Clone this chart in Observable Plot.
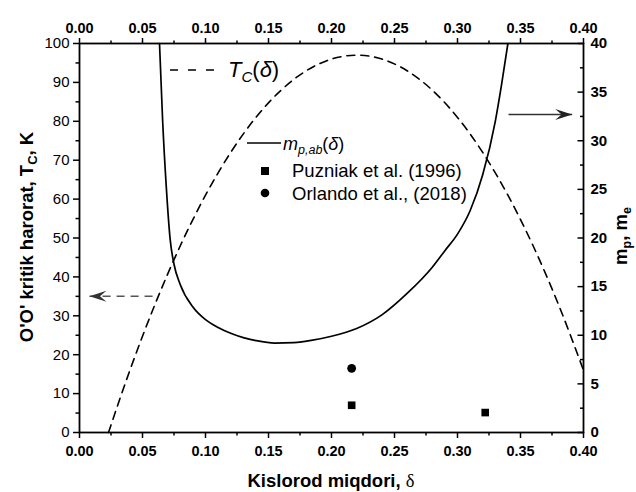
<!DOCTYPE html>
<html><head><meta charset="utf-8">
<script src="https://cdn.jsdelivr.net/npm/d3@7"></script>
<script src="https://cdn.jsdelivr.net/npm/@observablehq/plot@0.6"></script>
<style>
body{margin:0;background:#fff}
#chart{position:relative;width:636px;height:492px}
</style>
</head><body><div id="chart"></div>
<script>
// T_C(δ) dashed curve (left axis, K)
const tcDelta  = [0.023, 0.040, 0.060, 0.080, 0.100, 0.120, 0.140, 0.160, 0.180, 0.200, 0.220, 0.240, 0.260, 0.280, 0.300, 0.320, 0.340, 0.360, 0.380, 0.400];
const tcValues = [0.0,   16.0,  33.0,  48.0,  61.0,  72.0,  81.0,  88.0,  93.0,  96.0,  97.0,  96.0,  93.0,  88.0,  81.0,  72.0,  61.0,  48.0,  33.0,  16.0];
// m_p,ab(δ) solid curve (right axis, m_e)
const mpDelta  = [0.0635, 0.066, 0.069, 0.072, 0.075, 0.080, 0.090, 0.100, 0.110, 0.120, 0.130, 0.140, 0.155, 0.170, 0.185, 0.200, 0.220, 0.240, 0.260, 0.280, 0.290, 0.300, 0.310, 0.320, 0.330, 0.335, 0.340];
const mpValues = [40.0,   32.0,  25.0,  19.8,  17.3,  15.2,  12.9,  11.6,  10.8,  10.2,  9.75,  9.45,  9.2,   9.25,  9.5,   9.9,   10.7,  12.1,  14.3,  17.0,  18.7,  20.4,  22.8,  26.5,  32.0,  35.8,  40.0];
// experimental points (right axis)
const puzniakDelta = [0.216, 0.322];
const puzniakMass  = [2.8, 2.05];
const orlandoDelta = [0.216];
const orlandoMass  = [6.6];
// guide arrows
const tcArrowFrom = [0.058], tcArrowTo = [0.0079], tcArrowLevel = [35];
const mpArrowFrom = [0.3405], mpArrowTo = [0.391], mpArrowLevel = [32.7];
// ticks
const xTicks = [0, 0.05, 0.10, 0.15, 0.20, 0.25, 0.30, 0.35, 0.40];
const xMinor = [0.025, 0.075, 0.125, 0.175, 0.225, 0.275, 0.325, 0.375];
const leftTicks = [0, 10, 20, 30, 40, 50, 60, 70, 80, 90, 100];
const leftMinor = [5, 15, 25, 35, 45, 55, 65, 75, 85, 95];
const rightTicks = [0, 5, 10, 15, 20, 25, 30, 35, 40];
const rightMinor = [2.5, 7.5, 12.5, 17.5, 22.5, 27.5, 32.5, 37.5];

const K = 100 / 40; // right-axis units onto the left scale

const tcData = tcDelta.map((d, i) => ({delta: d, tc: tcValues[i]}));
const mpData = mpDelta.map((d, i) => ({delta: d, m: mpValues[i]}));
const puzData = puzniakDelta.map((d, i) => ({delta: d, m: puzniakMass[i]}));
const orlData = orlandoDelta.map((d, i) => ({delta: d, m: orlandoMass[i]}));
const tcArrow = tcArrowFrom.map((d, i) => ({from: d, to: tcArrowTo[i], y: tcArrowLevel[i]}));
const mpArrow = mpArrowFrom.map((d, i) => ({from: d, to: mpArrowTo[i], y: mpArrowLevel[i] * K}));

const arrowHead = {draw(ctx) { const L = 17, W = 11; ctx.moveTo(0, 0); ctx.lineTo(-L, -W / 2); ctx.lineTo(-0.62 * L, 0); ctx.lineTo(-L, W / 2); ctx.closePath(); }};
const inTickMajor = {draw(ctx) { ctx.moveTo(-6, 0); ctx.lineTo(0, 0); }};
const inTickMinor = {draw(ctx) { ctx.moveTo(-3.5, 0); ctx.lineTo(0, 0); }};

const fmt2 = d3.format(".2f");
const FONT = "'Liberation Sans', Arial, sans-serif";

const plot = Plot.plot({
  width: 636, height: 492,
  marginLeft: 79, marginRight: 53, marginTop: 43, marginBottom: 60,
  x: {domain: [0, 0.4]},
  y: {domain: [0, 100]},
  style: {fontFamily: FONT, fontSize: "15px", color: "#000", background: "#fff", overflow: "visible"},
  marks: [
    Plot.line(tcData, {x: "delta", y: "tc", stroke: "#000", strokeWidth: 1.6, strokeDasharray: "8,6", curve: "monotone-x"}),
    Plot.line(mpData, {x: "delta", y: d => d.m * K, stroke: "#000", strokeWidth: 1.7, curve: "monotone-x"}),
    Plot.dot(puzData, {x: "delta", y: d => d.m * K, symbol: "square", fill: "#000", r: 4.3}),
    Plot.dot(orlData, {x: "delta", y: d => d.m * K, symbol: "circle", fill: "#000", r: 4.4}),
    // arrows
    Plot.link(tcArrow, {x1: "from", x2: "to", y1: "y", y2: "y", stroke: "#555", strokeWidth: 1.5, strokeDasharray: "8,6"}),
    Plot.dot(tcArrow, {x: "to", y: "y", symbol: arrowHead, rotate: 180, fill: "#333", stroke: "none"}),
    Plot.link(mpArrow, {x1: "from", x2: "to", y1: "y", y2: "y", stroke: "#333", strokeWidth: 1.6}),
    Plot.dot(mpArrow, {x: "to", y: "y", symbol: arrowHead, rotate: 0, fill: "#222", stroke: "none"}),
    // axes
    Plot.axisX(xTicks, {anchor: "bottom", label: null, tickSize: 6, tickPadding: 7, strokeWidth: 1.5, tickFormat: fmt2, fontWeight: "bold", fontSize: 14.5}),
    Plot.axisX(xMinor, {anchor: "bottom", label: null, tickSize: 3.5, strokeWidth: 1.5, tickFormat: () => ""}),
    Plot.axisX(xTicks, {anchor: "top", label: null, tickSize: 6, strokeWidth: 1.5, tickFormat: () => ""}),
    Plot.text(xTicks, {x: d => d, frameAnchor: "top", dy: -21, text: d => fmt2(d), fontWeight: "bold", fontSize: 14.5}),
    Plot.axisX(xMinor, {anchor: "top", label: null, tickSize: 3.5, strokeWidth: 1.5, tickFormat: () => ""}),
    Plot.axisY(leftTicks, {anchor: "left", label: null, tickSize: 6, tickPadding: 4, strokeWidth: 1.5, fontSize: 15}),
    Plot.axisY(leftMinor, {anchor: "left", label: null, tickSize: 3.5, strokeWidth: 1.5, tickFormat: () => ""}),
    Plot.axisY(rightTicks.map(v => v * K), {anchor: "right", label: null, tickSize: 0, tickPadding: 7, tickFormat: d => Math.round(d / K), fontWeight: "bold", fontSize: 15}),
    Plot.dot(rightTicks.map(v => v * K), {y: d => d, frameAnchor: "right", symbol: inTickMajor, stroke: "#000", strokeWidth: 1.5, fill: "none"}),
    Plot.dot(rightMinor.map(v => v * K), {y: d => d, frameAnchor: "right", symbol: inTickMinor, stroke: "#000", strokeWidth: 1.5, fill: "none"}),
    Plot.frame({stroke: "#000", strokeWidth: 1.8})
  ]
});

document.getElementById("chart").appendChild(plot);

// overlay: axis titles and in-plot legend
const svg = d3.select(plot);
const g = svg.append("g").attr("font-family", FONT).attr("fill", "#000").attr("text-anchor", "start");

// left title
const lt = g.append("text").attr("transform", "translate(33,237) rotate(-90)").attr("text-anchor", "middle")
  .attr("font-weight", "bold").attr("font-size", 18.5);
lt.append("tspan").text("O'O' kritik harorat, T");
lt.append("tspan").attr("font-size", 13).attr("dy", 4).text("C");
lt.append("tspan").attr("dy", -4).text(", K");

// bottom title
const bt = g.append("text").attr("x", 331).attr("y", 487).attr("text-anchor", "middle")
  .attr("font-weight", "bold").attr("font-size", 18.5);
bt.append("tspan").text("Kislorod miqdori, ");
bt.append("tspan").attr("font-family", "'Liberation Serif', 'DejaVu Serif', serif").attr("font-weight", "normal").text("δ");

// right title
const rt = g.append("text").attr("transform", "translate(627,236) rotate(-90)").attr("text-anchor", "middle")
  .attr("font-weight", "bold").attr("font-size", 18.5);
rt.append("tspan").text("m");
rt.append("tspan").attr("font-size", 12.5).attr("dy", 4).text("p");
rt.append("tspan").attr("dy", -4).text(", m");
rt.append("tspan").attr("font-size", 12.5).attr("dy", 4).text("e");

// legend
g.append("line").attr("x1", 170).attr("x2", 214).attr("y1", 70).attr("y2", 70)
  .attr("stroke", "#000").attr("stroke-width", 1.6).attr("stroke-dasharray", "8,10");
const l1 = g.append("text").attr("x", 228).attr("y", 77).attr("font-size", 22);
l1.append("tspan").attr("font-style", "italic").text("T");
l1.append("tspan").attr("font-style", "italic").attr("font-size", 15).attr("dy", 5).text("C");
l1.append("tspan").attr("dy", -5).text("(");
l1.append("tspan").attr("font-style", "italic").text("δ");
l1.append("tspan").text(")");

g.append("line").attr("x1", 247).attr("x2", 281).attr("y1", 143).attr("y2", 143)
  .attr("stroke", "#000").attr("stroke-width", 1.7);
const l2 = g.append("text").attr("x", 283).attr("y", 150).attr("font-size", 18);
l2.append("tspan").attr("font-style", "italic").text("m");
l2.append("tspan").attr("font-style", "italic").attr("font-size", 12.5).attr("dy", 4).text("p,ab");
l2.append("tspan").attr("dy", -4).text("(");
l2.append("tspan").attr("font-style", "italic").text("δ");
l2.append("tspan").text(")");

g.append("rect").attr("x", 261).attr("y", 167).attr("width", 8).attr("height", 8).attr("fill", "#000");
g.append("text").attr("x", 292).attr("y", 177).attr("font-size", 18.5).text("Puzniak et al. (1996)");
g.append("circle").attr("cx", 265).attr("cy", 193).attr("r", 4.3).attr("fill", "#000");
g.append("text").attr("x", 292).attr("y", 199.5).attr("font-size", 18.5).text("Orlando et al., (2018)");
</script>
</body></html>
